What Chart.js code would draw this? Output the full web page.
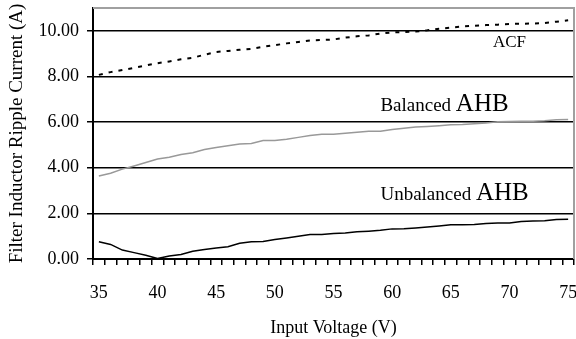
<!DOCTYPE html>
<html>
<head>
<meta charset="utf-8">
<script src="https://cdn.jsdelivr.net/npm/chart.js@4.4.0/dist/chart.umd.min.js"></script>
<style>
  body { margin: 0; background: #fff; }
  #wrap { width: 576px; height: 339px; position: relative; }
</style>
</head>
<body>
<div id="wrap"><canvas id="mycanvas"></canvas></div>
<script>
// input voltage, 35..75 V in 1 V steps
var voltages = ["35","36","37","38","39","40","41","42","43","44","45","46","47","48","49","50",
  "51","52","53","54","55","56","57","58","59","60","61","62","63","64","65","66","67","68","69","70",
  "71","72","73","74","75"];

var acf = [8.07,8.19,8.28,8.38,8.48,8.58,8.66,8.75,8.82,8.95,9.07,9.12,9.17,9.21,9.30,9.37,
  9.45,9.51,9.58,9.60,9.62,9.70,9.76,9.80,9.88,9.93,9.95,9.97,10.02,10.09,10.14,10.19,10.22,
  10.25,10.27,10.30,10.31,10.32,10.34,10.40,10.46];

var balanced = [3.64,3.76,3.94,4.08,4.23,4.38,4.46,4.58,4.66,4.80,4.89,4.96,5.04,5.06,5.19,5.19,
  5.25,5.33,5.41,5.47,5.47,5.51,5.56,5.60,5.60,5.68,5.73,5.78,5.81,5.84,5.88,5.89,5.93,5.96,
  6.01,6.03,6.04,6.04,6.06,6.10,6.11];

var unbalanced = [0.76,0.64,0.39,0.28,0.16,0.02,0.13,0.20,0.34,0.42,0.48,0.54,0.69,0.76,0.77,0.85,
  0.92,1.00,1.07,1.07,1.12,1.14,1.19,1.22,1.26,1.32,1.33,1.36,1.40,1.45,1.50,1.50,1.51,1.56,
  1.58,1.58,1.64,1.67,1.68,1.73,1.74];

var yTicks = [0, 2, 4, 6, 8, 10];

var serif = '"Liberation Serif", "Times New Roman", serif';

// curve names written inside the plot
var curveLabels = {
  id: 'curveLabels',
  afterDatasetsDraw: function(chart) {
    var ctx = chart.ctx, xs = chart.scales.x, ys = chart.scales.y;
    ctx.save();
    ctx.fillStyle = '#000';
    ctx.textBaseline = 'alphabetic';

    ctx.font = '17px ' + serif;
    ctx.textAlign = 'center';
    ctx.fillText('ACF', xs.getPixelForValue(voltages.indexOf('70')), ys.getPixelForValue(9.3));

    ctx.textAlign = 'left';
    var rows = [['Balanced ', 6.49], ['Unbalanced ', 2.59]];
    rows.forEach(function(r) {
      var x = xs.getPixelForValue(voltages.indexOf('59'));
      var y = ys.getPixelForValue(r[1]);
      ctx.font = '19px ' + serif;
      ctx.fillText(r[0], x, y);
      x += ctx.measureText(r[0]).width;
      ctx.font = '25px ' + serif;
      ctx.fillText('AHB', x, y);
    });
    ctx.restore();
  },
  afterDraw: function(chart) {
    // grey frame on top and right of the plot
    var a = chart.chartArea, ctx = chart.ctx;
    ctx.save();
    ctx.strokeStyle = '#a0a0a0';
    ctx.lineWidth = 2;
    ctx.beginPath();
    ctx.moveTo(a.left, a.top);
    ctx.lineTo(a.right, a.top);
    ctx.lineTo(a.right, a.bottom);
    ctx.stroke();
    ctx.restore();
  }
};

var chartdata = {
  labels: voltages,
  datasets: [
    {
      label: "ACF",
      data: acf,
      borderColor: "#000",
      borderWidth: 2,
      borderDash: [4, 6],
      pointRadius: 0,
      fill: false
    },
    {
      label: "Balanced AHB",
      data: balanced,
      borderColor: "#999",
      borderWidth: 1.5,
      pointRadius: 0,
      fill: false
    },
    {
      label: "Unbalanced AHB",
      data: unbalanced,
      borderColor: "#000",
      borderWidth: 1.5,
      pointRadius: 0,
      fill: false
    }
  ]
};

var ctx = document.getElementById("mycanvas");

var lineGraph = new Chart(ctx, {
  type: 'line',
  data: chartdata,
  plugins: [curveLabels],
  options: {
    responsive: true,
    maintainAspectRatio: false,
    animation: false,
    layout: { padding: { top: 8, right: 2, left: 0, bottom: 0 } },
    plugins: { legend: { display: false }, tooltip: { enabled: false } },
    scales: {
      x: {
        type: 'category',
        offset: true,
        afterFit: function(s) { s.height = 80; s.paddingLeft = 0; s.paddingRight = 0; },
        grid: { offset: true, drawOnChartArea: false, drawTicks: true, tickLength: 6, color: '#000', lineWidth: 1.5 },
        border: { display: true, color: '#000', width: 2 },
        ticks: {
          autoSkip: false,
          maxRotation: 0,
          color: '#000',
          padding: 17,
          font: { family: serif, size: 18 },
          callback: function(v, i) { return Number(voltages[i]) % 5 === 0 ? voltages[i] : ''; }
        },
        title: {
          display: true,
          text: 'Input Voltage (V)',
          color: '#000',
          font: { family: serif, size: 18 },
          padding: { top: 0, bottom: 0 }
        }
      },
      y: {
        min: 0,
        max: 11,
        afterFit: function(s) { s.width = 93; s.paddingTop = 0; s.paddingBottom = 0; },
        afterBuildTicks: function(s) { s.ticks = yTicks.map(function(v) { return { value: v }; }); },
        grid: { color: '#000', lineWidth: 1.5, tickLength: 6 },
        border: { display: true, color: '#000', width: 2 },
        ticks: {
          color: '#000',
          padding: 8,
          font: { family: serif, size: 18 },
          callback: function(v) { return Number(v).toFixed(2); }
        },
        title: {
          display: true,
          text: 'Filter Inductor Ripple Current (A)',
          color: '#000',
          font: { family: serif, size: 19 },
          padding: { top: 6, bottom: 0 }
        }
      }
    }
  }
});
</script>
</body>
</html>
